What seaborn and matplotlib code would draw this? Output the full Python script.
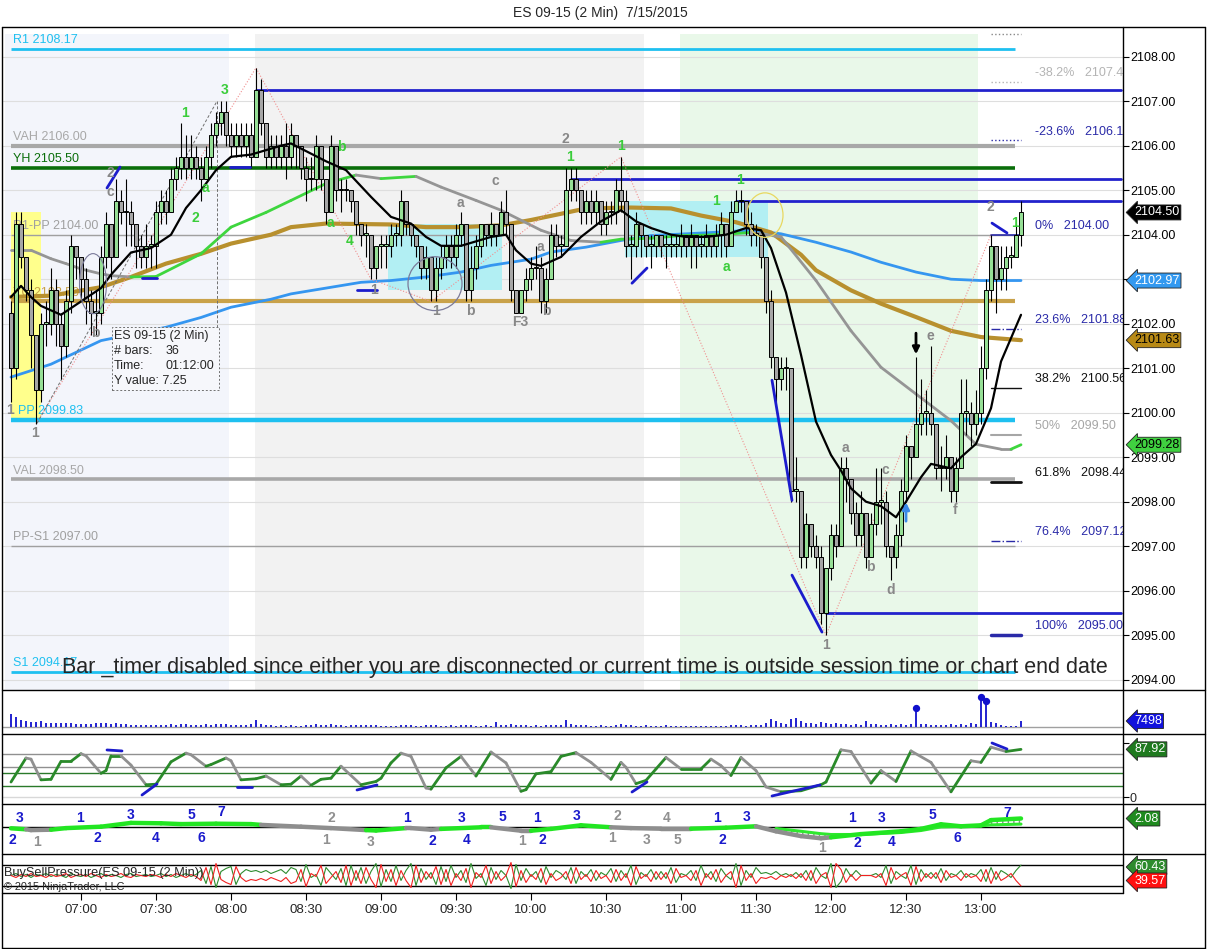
import numpy as np
import matplotlib
matplotlib.use('Agg')
import matplotlib.pyplot as plt
import seaborn as sns
from matplotlib.lines import Line2D
from matplotlib.patches import Rectangle, Ellipse

sns.set_theme(style='white')
plt.rcParams['font.family'] = ['Liberation Sans', 'DejaVu Sans']

# ---------------- data (2 minute bars from 06:32 to 13:16) ----------------
first_open = 2102.25
closes = [
    2101.0, 2104.25, 2103.5, 2102.75, 2101.75, 2100.5, 2102.0, 2102.0, 2102.75, 2102.0,
    2101.5, 2102.5, 2103.75, 2103.5, 2103.0, 2102.5, 2102.25, 2102.25, 2103.5, 2104.25,
    2103.5, 2104.75, 2104.5, 2104.5, 2104.25, 2103.75, 2103.5, 2103.75, 2103.75, 2104.5,
    2104.75, 2104.5, 2105.25, 2105.5, 2105.75, 2105.5, 2105.75, 2105.5, 2105.25, 2105.75,
    2106.25, 2106.5, 2106.75, 2106.25, 2106.0, 2106.25, 2106.0, 2106.25, 2105.75, 2107.25,
    2106.5, 2105.75, 2106.0, 2105.75, 2106.0, 2105.75, 2106.25, 2106.0, 2105.5, 2105.25,
    2105.25, 2106.0, 2105.25, 2104.5, 2106.0, 2105.0, 2105.0, 2105.0, 2104.75, 2104.25,
    2104.0, 2104.0, 2103.25, 2103.75, 2103.75, 2103.75, 2104.0, 2104.0, 2104.75, 2104.25,
    2104.0, 2103.75, 2103.25, 2103.5, 2102.75, 2103.25, 2103.5, 2103.75, 2103.5, 2104.0,
    2104.25, 2102.75, 2103.25, 2103.75, 2104.25, 2104.0, 2104.25, 2104.0, 2104.5, 2104.25,
    2102.75, 2102.25, 2102.75, 2103.0, 2103.25, 2103.25, 2102.5, 2103.0, 2104.0, 2103.75,
    2103.75, 2105.0, 2105.25, 2105.0, 2104.5, 2104.75, 2104.5, 2104.75, 2104.25, 2104.5,
    2104.5, 2105.0, 2104.75, 2103.75, 2103.75, 2104.25, 2104.0, 2103.75, 2103.75, 2104.0,
    2103.75, 2103.75, 2103.75, 2103.75, 2104.0, 2103.75, 2104.0, 2103.75, 2103.75, 2104.0,
    2103.75, 2104.0, 2104.25, 2103.75, 2104.5, 2104.75, 2104.75, 2104.25, 2104.0, 2104.0,
    2103.5, 2102.5, 2101.25, 2100.75, 2101.0, 2101.0, 2098.25, 2098.25, 2096.75, 2097.5,
    2097.0, 2096.75, 2095.5, 2096.5, 2097.25, 2097.0, 2098.75, 2098.5, 2097.75, 2097.25,
    2097.75, 2096.75, 2097.5, 2098.0, 2098.0, 2097.0, 2096.75, 2097.25, 2098.25, 2099.25,
    2099.0, 2099.75, 2100.0, 2100.0, 2099.75, 2098.75, 2098.75, 2099.0, 2098.25, 2098.75,
    2100.0, 2100.0, 2099.75, 2100.0, 2101.0, 2102.75, 2103.75, 2103.0, 2103.25, 2103.5,
    2103.5, 2104.0, 2104.5]
highs = [
    2102.5, 2104.5, 2104.5, 2103.5, 2103.0, 2101.75, 2102.25, 2102.5, 2103.25, 2103.0,
    2102.25, 2102.75, 2104.0, 2103.75, 2103.5, 2103.25, 2102.75, 2102.75, 2103.75, 2104.5,
    2104.25, 2105.25, 2105.0, 2105.25, 2104.75, 2104.25, 2104.0, 2104.25, 2104.0, 2104.75,
    2105.0, 2105.0, 2105.5, 2105.75, 2106.5, 2106.25, 2106.25, 2106.0, 2105.75, 2106.0,
    2106.5, 2106.75, 2107.0, 2107.0, 2106.5, 2106.5, 2106.5, 2106.5, 2106.5, 2107.75,
    2107.5, 2106.5, 2106.25, 2106.25, 2106.25, 2106.5, 2106.5, 2106.25, 2106.0, 2105.75,
    2105.75, 2106.25, 2106.0, 2105.25, 2106.25, 2106.0, 2105.25, 2105.25, 2105.0, 2104.75,
    2104.25, 2104.25, 2104.0, 2103.75, 2104.0, 2104.0, 2104.25, 2104.25, 2105.0, 2104.75,
    2104.25, 2104.0, 2103.75, 2103.75, 2103.5, 2103.5, 2103.75, 2104.0, 2104.0, 2104.25,
    2104.5, 2104.25, 2103.75, 2104.0, 2104.25, 2104.25, 2104.5, 2104.25, 2104.75, 2105.0,
    2104.25, 2102.75, 2102.75, 2103.25, 2103.5, 2103.75, 2103.5, 2103.25, 2104.25, 2104.25,
    2104.0, 2105.5, 2105.5, 2105.5, 2105.0, 2105.0, 2105.0, 2105.0, 2104.75, 2104.75,
    2104.75, 2105.25, 2105.75, 2105.0, 2104.0, 2104.5, 2104.25, 2104.0, 2104.0, 2104.0,
    2104.0, 2104.0, 2104.0, 2104.0, 2104.25, 2104.0, 2104.25, 2104.0, 2104.0, 2104.25,
    2104.0, 2104.25, 2104.5, 2104.25, 2104.75, 2105.0, 2105.0, 2104.75, 2104.5, 2104.25,
    2104.0, 2103.5, 2102.75, 2101.25, 2101.25, 2101.25, 2101.0, 2099.0, 2098.0, 2097.75,
    2097.5, 2097.25, 2097.0, 2096.5, 2097.5, 2097.5, 2099.0, 2099.0, 2098.5, 2098.0,
    2098.25, 2097.75, 2097.75, 2098.75, 2098.75, 2098.25, 2097.0, 2097.5, 2098.5, 2099.5,
    2099.25, 2101.25, 2100.75, 2100.5, 2101.5, 2099.75, 2099.25, 2099.5, 2099.0, 2099.0,
    2100.75, 2100.75, 2100.25, 2100.5, 2101.5, 2103.0, 2104.0, 2103.75, 2103.75, 2103.75,
    2103.75, 2104.25, 2104.75]
lows = [
    2100.25, 2100.75, 2103.25, 2102.5, 2101.0, 2099.75, 2100.25, 2101.5, 2101.75, 2101.5,
    2100.75, 2101.25, 2102.25, 2103.0, 2102.5, 2102.0, 2101.75, 2101.75, 2102.0, 2103.25,
    2103.0, 2103.5, 2104.25, 2103.75, 2103.75, 2103.25, 2103.25, 2103.25, 2103.25, 2103.25,
    2104.25, 2104.25, 2104.5, 2105.0, 2105.25, 2105.25, 2105.25, 2105.25, 2104.75, 2105.25,
    2105.5, 2106.0, 2106.25, 2106.0, 2105.75, 2105.75, 2105.75, 2105.75, 2105.5, 2105.75,
    2106.25, 2105.5, 2105.5, 2105.5, 2105.5, 2105.25, 2105.5, 2105.5, 2105.25, 2104.75,
    2105.0, 2105.0, 2105.0, 2104.25, 2104.5, 2104.75, 2104.5, 2104.75, 2104.5, 2104.0,
    2103.75, 2103.5, 2103.0, 2103.0, 2103.25, 2103.25, 2103.5, 2103.75, 2103.75, 2104.0,
    2103.75, 2103.5, 2103.0, 2103.0, 2102.5, 2102.5, 2103.0, 2103.25, 2103.25, 2103.25,
    2103.75, 2102.5, 2102.5, 2103.0, 2103.5, 2103.75, 2103.75, 2103.75, 2104.0, 2104.0,
    2102.5, 2102.25, 2102.25, 2102.5, 2102.75, 2103.0, 2102.25, 2102.25, 2103.0, 2103.5,
    2103.5, 2103.75, 2104.75, 2104.75, 2104.25, 2104.25, 2104.25, 2104.25, 2104.0, 2104.0,
    2104.25, 2104.25, 2104.5, 2103.5, 2103.0, 2103.5, 2103.5, 2103.5, 2103.25, 2103.5,
    2103.5, 2103.25, 2103.5, 2103.5, 2103.5, 2103.5, 2103.25, 2103.25, 2103.5, 2103.5,
    2103.5, 2103.5, 2103.5, 2103.5, 2103.75, 2104.5, 2104.5, 2104.0, 2103.75, 2103.75,
    2103.25, 2102.25, 2101.0, 2100.25, 2100.5, 2100.5, 2098.0, 2098.0, 2096.5, 2096.5,
    2096.75, 2096.5, 2095.25, 2095.0, 2096.25, 2096.75, 2097.0, 2098.0, 2097.5, 2097.0,
    2097.0, 2096.5, 2096.75, 2097.25, 2097.5, 2096.75, 2096.25, 2096.5, 2097.0, 2098.0,
    2098.5, 2099.0, 2099.5, 2099.5, 2099.5, 2098.5, 2098.25, 2098.5, 2098.0, 2098.0,
    2098.75, 2099.5, 2099.25, 2099.5, 2099.75, 2100.75, 2102.5, 2102.25, 2102.75, 2102.75,
    2103.25, 2103.5, 2103.75]
volumes = [
    16000, 12500, 9000, 7500, 6500, 6000, 7000, 5500, 5000, 4500,
    4500, 5000, 5500, 4000, 4000, 3500, 3500, 4500, 5000, 4500,
    4000, 5000, 3500, 3500, 3000, 3000, 2500, 3000, 2500, 2500,
    3000, 2500, 3500, 3000, 4000, 3500, 3000, 2500, 3000, 3500,
    3000, 3500, 4000, 3500, 3000, 2500, 3000, 3000, 3500, 8500,
    3500, 3000, 2000, 1500, 2000, 1500, 2500, 1500, 1500, 2000,
    2000, 3500, 2500, 3000, 4000, 3000, 2000, 1500, 2000, 2500,
    2000, 2500, 3000, 2000, 1500, 1500, 1500, 1500, 2500, 2000,
    2000, 1500, 1500, 2500, 2000, 2000, 1500, 1500, 2000, 1500,
    2000, 2500, 2000, 1500, 1500, 2000, 1500, 6000, 2000, 3000,
    3500, 2500, 2000, 2000, 1500, 2000, 1500, 2000, 2000, 2500,
    3000, 8500, 3500, 2500, 2000, 2000, 1500, 1500, 2000, 1000,
    1500, 2000, 3500, 2500, 2000, 1500, 1500, 2000, 1500, 1500,
    1500, 2000, 1500, 1500, 1500, 1000, 1500, 1500, 1000, 1500,
    1000, 1500, 1500, 1000, 2000, 2500, 2000, 1500, 2000, 2500,
    3000, 5500, 9500, 7500, 4500, 3500, 10500, 11000, 8000, 5000,
    5500, 4000, 6000, 5500, 3500, 4500, 4000, 3500, 3000, 3500,
    3000, 8000, 3500, 4000, 2500, 3000, 3500, 3000, 3500, 3000,
    3500, 22500, 4000, 3500, 3000, 3000, 2500, 3000, 3500, 3000,
    3500, 3000, 4500, 4000, 36000, 31000, 6000, 4500, 2000, 1500,
    1500, 1500, 7498]
vol_spikes = [181, 194, 195]
buy_pressure = [
    50, 52, 49, 51, 48, 51, 50, 52, 49, 51,
    50, 48, 52, 50, 49, 51, 48, 50, 52, 49,
    51, 50, 48, 51, 52, 49, 50, 51, 49, 50,
    52, 49, 51, 48, 50, 52, 49, 51, 55, 42,
    59, 38, 54, 57, 59, 41, 52, 56, 54, 55,
    53, 55, 52, 54, 56, 52, 58, 56, 44, 61,
    48, 51, 40, 58, 52, 46, 57, 40, 60, 45,
    58, 42, 54, 62, 39, 56, 44, 60, 45, 55,
    62, 40, 57, 46, 53, 41, 59, 44, 60, 48,
    55, 43, 62, 47, 52, 40, 58, 46, 55, 50,
    37, 61, 45, 57, 49, 54, 43, 59, 48, 55,
    52, 46, 58, 42, 54, 49, 56, 45, 53, 50,
    57, 44, 55, 48, 60, 41, 53, 49, 56, 46,
    54, 47, 58, 43, 52, 50, 55, 45, 60, 48,
    54, 44, 57, 50, 46, 62, 40, 55, 48, 58,
    52, 53, 51, 54, 50, 52, 49, 53, 48, 55,
    45, 58, 50, 47, 62, 38, 44, 57, 49, 55,
    50, 50, 50, 52, 48, 60, 42, 54, 50, 47,
    60, 41, 56, 48, 53, 47, 57, 45, 52, 50,
    55, 48, 52, 50, 56, 44, 58, 46, 55, 52,
    48, 55, 60.43]

# moving averages (bar index, value)
ema_x = [0, 2, 4, 6, 10, 12, 14, 18, 20, 24, 28, 32, 35, 38, 41, 44, 48, 54, 56, 63, 67, 72,
         76, 80, 83, 86, 90, 93, 96, 99, 101, 104, 106, 110, 114, 118, 122, 125, 128, 132,
         135, 139, 143, 147, 150, 152, 155, 158, 161, 164, 166, 168, 171, 174, 177, 179,
         182, 184, 188, 190, 193, 196, 198, 202]
ema_v = [2102.6, 2102.85, 2102.6, 2102.4, 2102.2, 2102.35, 2102.5, 2102.8, 2103.1, 2103.6,
         2103.7, 2104.0, 2104.6, 2105.0, 2105.45, 2105.75, 2105.8, 2106.0, 2106.05, 2105.65,
         2105.45, 2104.85, 2104.4, 2104.25, 2103.95, 2103.75, 2103.75, 2103.85, 2103.95,
         2104.0, 2103.65, 2103.35, 2103.3, 2103.5, 2103.95, 2104.3, 2104.55, 2104.3, 2104.15,
         2104.0, 2103.95, 2103.95, 2104.0, 2104.15, 2104.1, 2103.7, 2102.7, 2101.3, 2099.8,
         2099.05, 2098.7, 2098.3, 2098.0, 2097.9, 2097.65, 2098.0, 2098.55, 2098.85, 2098.75,
         2099.0, 2099.3, 2100.1, 2101.15, 2102.2]
sma_x = [0, 4, 8, 11, 14, 18, 20, 24, 29, 38, 44, 51, 56, 63, 69, 74, 81, 86, 93, 98, 106,
         112, 118, 122, 128, 134, 139, 144, 148, 154, 161, 168, 174, 181, 188, 193, 198,
         200, 202]
sma_v = [2103.65, 2103.65, 2103.46, 2103.35, 2103.23, 2103.12, 2103.08, 2103.05, 2103.06,
         2103.57, 2104.17, 2104.5, 2104.77, 2105.15, 2105.34, 2105.26, 2105.31, 2105.07,
         2104.77, 2104.55, 2104.1, 2103.87, 2103.83, 2103.9, 2103.92, 2103.98, 2103.99,
         2104.02, 2104.05, 2103.95, 2102.97, 2101.84, 2101.02, 2100.42, 2099.82, 2099.29,
         2099.18, 2099.18, 2099.28]
gold_x = [0, 8, 18, 24, 31, 38, 44, 52, 56, 63, 76, 83, 90, 98, 104, 110, 115, 124, 132,
          138, 145, 152, 158, 161, 168, 174, 181, 188, 194, 202]
gold_v = [2102.6, 2102.63, 2102.82, 2103.05, 2103.35, 2103.57, 2103.8, 2104.0, 2104.17,
          2104.25, 2104.23, 2104.17, 2104.17, 2104.21, 2104.33, 2104.47, 2104.59, 2104.61,
          2104.59, 2104.43, 2104.28, 2104.05, 2103.55, 2103.2, 2102.75, 2102.45, 2102.15,
          2101.84, 2101.7, 2101.63]
blue_x = [0, 8, 18, 31, 38, 44, 52, 56, 70, 76, 83, 90, 96, 104, 108, 115, 122, 128, 135,
          142, 148, 154, 161, 168, 174, 181, 188, 194, 202]
blue_v = [2100.8, 2101.09, 2101.62, 2101.92, 2102.14, 2102.37, 2102.55, 2102.67, 2102.93,
          2102.97, 2103.05, 2103.16, 2103.31, 2103.45, 2103.61, 2103.72, 2103.87, 2103.98,
          2104.02, 2104.06, 2104.1, 2104.02, 2103.83, 2103.61, 2103.38, 2103.16, 2103.0,
          2102.97, 2102.97]

# stochastic
stoch_x = [0, 3, 4, 6, 8, 10, 12, 14, 15, 18, 19, 20, 22, 24, 27, 29, 32, 35, 36, 39, 40,
           43, 44, 46, 49, 51, 54, 56, 58, 60, 62, 64, 66, 70, 73, 74, 76, 78, 80, 83, 84,
           87, 90, 93, 96, 99, 102, 103, 105, 108, 110, 113, 116, 120, 122, 123, 125, 127,
           129, 131, 134, 138, 140, 142, 144, 146, 149, 151, 154, 158, 162, 163, 166, 168,
           172, 174, 177, 180, 184, 188, 192, 194, 196, 199, 202]
stoch_v = [28, 72, 70, 32, 33, 66, 66, 80, 76, 44, 49, 76, 76, 59, 23, 24, 65, 81, 78, 57,
           60, 72, 67, 32, 34, 39, 23, 24, 39, 22, 33, 35, 57, 23, 29, 35, 63, 81, 75, 17,
           15, 54, 75, 39, 83, 63, 11, 14, 43, 47, 75, 82, 64, 33, 64, 55, 25, 31, 52, 73,
           52, 52, 70, 58, 40, 73, 49, 19, 10, 12, 23, 28, 87, 84, 26, 49, 29, 85, 64, 10,
           67, 64, 92, 84, 87.92]

# wave oscillator (third panel)
macd_x = [0, 3, 4, 8, 11, 18, 24, 30, 34, 41, 48, 50, 58, 64, 71, 73, 79, 80, 84, 86, 94, 96,
          102, 104, 108, 114, 120, 124, 130, 136, 143, 149, 153, 158, 162, 164, 170, 178,
          182, 186, 190, 194, 196, 202]
macd_v = [-0.25, -0.5, -0.7, -0.6, -0.2, 0.15, 1.1, 1.0, 0.8, 0.9, 0.8, 0.6, 0.15, -0.2, -0.7,
          -0.8, -0.2, -0.2, -0.6, -0.4, 0.0, 0.0, -0.85, -0.85, -0.4, 0.5, 0.0, -0.2, -0.35,
          -0.35, -0.1, 0.25, -1.0, -2.2, -2.75, -2.5, -1.7, -1.0, -0.4, 0.75, 0.25, 0.5, 1.8,
          2.2]
signal_v = [-0.2, -0.3, -0.4, -0.5, -0.35, -0.05, 0.6, 0.85, 0.85, 0.85, 0.85, 0.8, 0.45, 0.1,
            -0.4, -0.55, -0.4, -0.35, -0.45, -0.45, -0.15, -0.1, -0.5, -0.6, -0.5, 0.1, 0.1,
            -0.05, -0.25, -0.3, -0.2, 0.05, -0.3, -1.0, -1.6, -1.8, -1.8, -1.3, -0.8, 0.1,
            0.2, 0.35, 0.6, 0.8]
macd_up = [1, 0, 0, 1, 1, 1, 1, 1, 1, 1, 1, 0, 0, 0, 1, 1, 0, 0, 0, 1, 1, 0, 0, 1, 1, 1, 0,
           0, 0, 1, 1, 0, 0, 0, 0, 1, 1, 1, 1, 1, 1, 1, 1]

# price levels
levels = [('R1 2108.17', 2108.17, '#1ec0f0', 2.0),
          ('VAH 2106.00', 2106.00, '#a8a8a8', 3.0),
          ('YH 2105.50', 2105.50, '#0a6e0a', 2.6),
          ('R1-PP 2104.00', 2104.00, '#a0a0a0', 1.0),
          ('YC 2102.50', 2102.50, '#c9a24a', 3.0),
          ('PP 2099.83', 2099.83, '#1ec0f0', 3.2),
          ('VAL 2098.50', 2098.50, '#a8a8a8', 2.6),
          ('PP-S1 2097.00', 2097.00, '#a0a0a0', 1.0),
          ('S1 2094.17', 2094.17, '#1ec0f0', 2.0)]
fib_pct = ['-38.2%', '-23.6%', '0%', '23.6%', '38.2%', '50%', '61.8%', '76.4%', '100%']
fib_val = [2107.44, 2106.12, 2104.00, 2101.88, 2100.56, 2099.50, 2098.44, 2097.12, 2095.00]
fib_col = ['#b4b4b4', '#2a2aa8', '#2a2aa8', '#2a2aa8', '#111111', '#a6a6a6', '#111111',
           '#2a2aa8', '#2a2aa8']
fib_ls = [':', ':', '-', '-.', '-', '-', '-', '-.', '-']
fib_lw = [1, 1, 1.2, 1, 1, 1.5, 2, 1, 2.5]

swing_x = [5, 49, 72, 84, 122, 163, 196]
swing_y = [2099.75, 2107.75, 2103.0, 2102.5, 2105.75, 2095.0, 2104.0]

waves = [('1', -0.2, 2100.06, 'k'), ('1', 4.8, 2099.54, 'k'), ('2', 19.8, 2105.39, 'k'),
         ('c', 19.8, 2104.96, 'k'), ('b', 16.8, 2101.79, 'k'), ('1', 34.8, 2106.73, 'g'),
         ('3', 42.8, 2107.25, 'g'), ('a', 38.8, 2105.05, 'g'), ('2', 36.8, 2104.38, 'g'),
         ('b', 66.0, 2105.97, 'g'), ('a', 63.8, 2104.26, 'g'), ('4', 67.8, 2103.86, 'g'),
         ('1', 72.6, 2102.76, 'k'), ('a', 89.8, 2104.71, 'k'), ('c', 96.8, 2105.2, 'k'),
         ('1', 85.0, 2102.28, 'k'), ('b', 91.8, 2102.28, 'k'), ('F3', 101.8, 2102.04, 'k'),
         ('b', 107.0, 2102.28, 'k'), ('a', 105.8, 2103.72, 'k'), ('2', 110.8, 2106.15, 'k'),
         ('1', 111.8, 2105.75, 'g'), ('1', 122.0, 2106.0, 'g'), ('1', 141.0, 2104.76, 'g'),
         ('1', 145.8, 2105.23, 'g'), ('a', 143.0, 2103.27, 'g'), ('a', 166.8, 2099.21, 'k'),
         ('c', 174.8, 2098.71, 'k'), ('b', 171.8, 2096.53, 'k'), ('d', 176.0, 2096.01, 'k'),
         ('e', 183.8, 2101.72, 'k'), ('f', 188.8, 2097.81, 'k'), ('1', 163.0, 2094.78, 'k'),
         ('2', 195.8, 2104.62, 'k'), ('1', 200.8, 2104.26, 'g')]
osc_labels = [('3', 1.8, 2.3, 'b'), ('2', 0.2, -3.2, 'b'), ('1', 5.2, -3.7, 'k'),
              ('1', 13.8, 2.3, 'b'), ('2', 17.2, -2.7, 'b'), ('3', 24, 3.1, 'b'),
              ('4', 29, -2.7, 'b'), ('5', 36, 3.1, 'b'), ('6', 38, -2.7, 'b'),
              ('7', 42, 3.9, 'b'), ('2', 64, 2.3, 'k'), ('1', 63, -3.2, 'k'),
              ('3', 72, -3.7, 'k'), ('1', 79.2, 2.3, 'b'), ('2', 84.2, -3.4, 'b'),
              ('3', 90.2, 2.3, 'b'), ('4', 91.2, -3.3, 'b'), ('5', 98.2, 2.6, 'b'),
              ('1', 102.2, -3.4, 'k'), ('1', 105.2, 2.3, 'b'), ('2', 106.2, -3.3, 'b'),
              ('3', 113.2, 2.8, 'b'), ('2', 121.2, 2.8, 'k'), ('1', 120.2, -2.8, 'k'),
              ('3', 127.2, -3.1, 'k'), ('4', 131.2, 2.3, 'k'), ('5', 133.2, -3.1, 'k'),
              ('1', 141.2, 2.3, 'b'), ('2', 142.2, -3.1, 'b'), ('3', 147.2, 2.6, 'b'),
              ('1', 162.2, -5.2, 'k'), ('1', 168.2, 2.3, 'b'), ('2', 169.2, -3.9, 'b'),
              ('3', 174.2, 2.3, 'b'), ('4', 176.2, -3.6, 'b'), ('5', 184.2, 3.1, 'b'),
              ('6', 189.2, -2.7, 'b'), ('7', 199.2, 3.6, 'b')]
time_labels = ['07:00', '07:30', '08:00', '08:30', '09:00', '09:30', '10:00', '10:30',
               '11:00', '11:30', '12:00', '12:30', '13:00']

# ---------------- figure ----------------
W, H = 1207, 949
fig = plt.figure(figsize=(W / 100, H / 100), dpi=100)
fig.patch.set_facecolor('white')
XL = (-1.8, 222.4)


def panel(x0, y0, x1, y1):
    a = fig.add_axes([x0 / W, 1 - y1 / H, (x1 - x0) / W, (y1 - y0) / H])
    a.set_facecolor('none')
    for s in a.spines.values():
        s.set_visible(False)
    a.set_xlim(*XL)
    a.set_xticks([])
    a.set_yticks([])
    a.grid(False)
    return a


def tag(a, y, text, fc, tc, fs=9):
    a.annotate(text, xy=(1, y), xycoords=('axes fraction', 'data'), xytext=(8, 0),
               textcoords='offset points', ha='left', va='center', fontsize=fs, color=tc,
               bbox=dict(boxstyle='larrow,pad=0.12', fc=fc, ec='#222222', lw=0.6),
               annotation_clip=False, zorder=20)


n = len(closes)
idx = np.arange(n)
c = np.array(closes)
o = np.array([first_open] + closes[:-1])
hi = np.maximum(np.array(highs), np.maximum(o, c))
lo = np.minimum(np.array(lows), np.minimum(o, c))

# ---- main price panel ----
ax = panel(2, 27, 1123, 690)
ax.set_ylim(2093.769, 2108.667)
ax.axvspan(-1.2, 43.5, ymax=0.99, color='#f3f5fb', zorder=0, lw=0)
ax.axvspan(48.7, 126.5, ymax=0.99, color='#f2f2f2', zorder=0, lw=0)
ax.axvspan(133.7, 193.4, ymax=0.99, color='#e9f8e9', zorder=0, lw=0)
for p in range(2094, 2109):
    ax.axhline(p, color='#dedede', lw=0.8, zorder=0.5)

ax.add_patch(Rectangle((0, 2099.83), 6, 4.67, fc='#ffff8c', ec='none', zorder=1))
ax.add_patch(Rectangle((75.4, 2102.75), 22.8, 1.5, fc='#b2eff3', ec='none', zorder=1))
ax.add_patch(Rectangle((122.8, 2103.5), 28.6, 1.25, fc='#b2eff3', ec='none', zorder=1))

for txt, val, col, lw in levels:
    ax.plot([0, 200.8], [val, val], color=col, lw=lw, zorder=2, solid_capstyle='butt')
    xoff = 1.4 if txt.startswith('PP ') else 0.4
    ax.annotate(txt, xy=(xoff, val), xytext=(0, 2), textcoords='offset points',
                ha='left', va='bottom', fontsize=9, color=col, zorder=2.5)

ax.plot([49, 222], [2107.25, 2107.25], color='#2222cc', lw=2, zorder=2)
ax.plot([112, 222], [2105.25, 2105.25], color='#2222cc', lw=2, zorder=2)
ax.plot([145, 222], [2104.75, 2104.75], color='#2222cc', lw=2, zorder=2)
ax.plot([163, 222], [2095.5, 2095.5], color='#2222cc', lw=2, zorder=2)

for pct, val, col, ls, lw in zip(fib_pct, fib_val, fib_col, fib_ls, fib_lw):
    ax.plot([196, 202], [val, val], color=col, ls=ls, lw=lw, zorder=2)
    ax.annotate(f'{pct}   {val:.2f}', xy=(204.8, val), xytext=(0, 2),
                textcoords='offset points', ha='left', va='bottom', fontsize=9,
                color=col, clip_on=True, zorder=2.5)
ax.plot([196, 202], [2108.5, 2108.5], color='#888888', ls=':', lw=1, zorder=2)

# moving averages
sns.lineplot(x=blue_x, y=blue_v, ax=ax, color='#3596f0', lw=2, zorder=3, legend=False)
sns.lineplot(x=gold_x, y=gold_v, ax=ax, color='#b8902e', lw=3, zorder=3, legend=False)
for i in range(len(sma_x) - 1):
    col = '#3ed63e' if sma_v[i + 1] > sma_v[i] else '#959595'
    ax.plot(sma_x[i:i + 2], sma_v[i:i + 2], color=col, lw=2, zorder=3,
            solid_capstyle='round')

# zigzag and measuring tool
ax.plot(swing_x, swing_y, color='#f09090', lw=0.8, ls=(0, (1, 1.6)), zorder=3)
ax.plot([5.2, 41.2], [2099.76, 2107.0], color='#707070', lw=0.7, ls=(0, (3, 2)), zorder=3)
ax.plot([41.2, 41.2], [2107.0, 2101.92], color='#707070', lw=0.7, ls=(0, (3, 2)), zorder=3)
ax.add_patch(Rectangle((20.2, 2100.5), 21.4, 1.42, fc='#f6f7fb', ec='#707070', lw=0.7,
                       ls=(0, (2, 2)), zorder=3.5))
for k, (a_txt, b_txt) in enumerate([('ES 09-15 (2 Min)', ''), ('# bars:', '36'),
                                    ('Time:', '01:12:00'), ('Y value: 7.25', '')]):
    yy = 2101.72 - k * 0.335
    ax.text(20.6, yy, a_txt, fontsize=9, va='center', ha='left', zorder=3.6)
    if b_txt:
        ax.text(31, yy, b_txt, fontsize=9, va='center', ha='left', zorder=3.6)

# candles
up = c >= o
ax.vlines(idx, lo, hi, color='black', lw=0.8, zorder=4)
ax.bar(idx, np.maximum(np.abs(c - o), 0.035), bottom=np.minimum(o, c), width=0.72,
       color=np.where(up, '#96df96', '#a6a6a6'), edgecolor='black', lw=0.7, zorder=4.2)

sns.lineplot(x=ema_x, y=ema_v, ax=ax, color='black', lw=1.6, zorder=4.5, legend=False)

# circles
ax.add_patch(Ellipse((84.8, 2102.9), 10.8, 1.21, fc='none', ec='#7a7a9a', lw=0.9, zorder=5))
ax.add_patch(Ellipse((16.4, 2102.9), 5.4, 1.35, fc='none', ec='#7a7a9a', lw=0.8, zorder=5))
ax.add_patch(Ellipse((150.8, 2104.44), 7.2, 1.0, fc='none', ec='#e8d860', lw=0.9, zorder=5))

# blue trend marks
for (x0, x1), (y0, y1) in [((19.2, 21.8), (2105.05, 2105.52)), ((26.2, 29.2), (2103.02, 2103.02)),
                           ((43.8, 47.8), (2105.52, 2105.52)), ((69.2, 73.2), (2102.76, 2102.76)),
                           ((124.2, 127.2), (2102.91, 2103.25)), ((152.2, 156.2), (2100.73, 2098.03)),
                           ((156.2, 162.2), (2096.35, 2095.07)), ((196.2, 199.2), (2104.26, 2104.04))]:
    ax.plot([x0, x1], [y0, y1], color='#1c1ccc', lw=2, zorder=5)

for txt, x, y, col in waves:
    ax.text(x, y, txt, fontsize=10, fontweight='bold', ha='center', va='center',
            color='#3acd3a' if col == 'g' else '#888888', zorder=6)
ax.annotate('', xy=(181, 2101.25), xytext=(181, 2101.85),
            arrowprops=dict(arrowstyle='-|>', color='black', lw=2, mutation_scale=10), zorder=6)
ax.annotate('', xy=(179, 2098.05), xytext=(179, 2097.5),
            arrowprops=dict(arrowstyle='-|>', color='#3a8ae8', lw=2, mutation_scale=10), zorder=6)

# right price scale (the 2103 label sits under the blue price tag)
ax.yaxis.tick_right()
ax.set_yticks(range(2094, 2109))
ax.set_yticklabels(['' if v == 2103 else f'{v:.2f}' for v in range(2094, 2109)])
ax.tick_params(axis='y', right=True, length=4, width=0.8, color='black', labelsize=9,
               pad=1, labelcolor='black')
tag(ax, 2104.50, '2104.50', 'black', 'white')
tag(ax, 2102.97, '2102.97', '#3399f0', 'white')
tag(ax, 2101.63, '2101.63', '#b88a16', 'black')
tag(ax, 2099.28, '2099.28', '#40d040', 'black')

# ---- volume panel ----
av = panel(2, 690, 1123, 734)
av.set_ylim(-8750, 46250)
av.axhline(0, color='#a0a0a0', lw=1, zorder=1)
av.vlines(idx, 0, volumes, color='#1010cc', lw=1.3, zorder=2)
av.scatter(vol_spikes, [volumes[i] + 1500 for i in vol_spikes], s=18, color='#1010cc', zorder=3)
tag(av, 7498, '7498', '#1212dd', 'white')

# ---- stochastic panel ----
ast = panel(2, 734, 1123, 804)
ast.set_ylim(-12.3, 116.1)
for lvl, col in [(80, '#909090'), (55, '#909090'), (45, '#2a7a2a'), (20, '#2a7a2a'), (0, '#d8d8d8')]:
    ast.axhline(lvl, color=col, lw=1, zorder=1)
for i in range(len(stoch_x) - 1):
    col = '#2a8a2a' if stoch_v[i + 1] >= stoch_v[i] else '#909090'
    ast.plot(stoch_x[i:i + 2], stoch_v[i:i + 2], color=col, lw=2, zorder=3,
             solid_capstyle='round')
for (x0, x1), (y0, y1) in [((19.2, 22.2), (86.8, 85)), ((26.2, 29.2), (4.2, 24.4)),
                           ((45.2, 48.2), (18.9, 18.9)), ((69.2, 73.2), (13.4, 22.6)),
                           ((124.2, 127.2), (9.7, 28)), ((152.2, 161.8), (2.4, 22.6)),
                           ((196.2, 199.2), (99.6, 88.6))]:
    ast.plot([x0, x1], [y0, y1], color='#1c1ccc', lw=2, zorder=4)
ast.yaxis.tick_right()
ast.set_yticks([0, 100])
ast.set_yticklabels(['0', ''])
ast.tick_params(axis='y', right=True, length=4, width=0.8, color='black', labelsize=9, pad=1)
tag(ast, 87.92, '87.92', '#1f7a1f', 'white')

# ---- wave oscillator panel ----
aw = panel(2, 804, 1123, 854)
aw.set_ylim(-6.675, 5.825)
aw.axhline(0, color='black', lw=1, zorder=1)
mx = np.array(macd_x)
late = mx >= 150
aw.fill_between(mx, macd_v, signal_v, where=late, interpolate=True, facecolor='none',
                edgecolor='#8a8a8a', hatch='|||', lw=0, zorder=2)
aw.plot(mx[late], np.array(signal_v)[late], color='#2ee82e', lw=2.2, zorder=3)
for i in range(len(macd_x) - 1):
    col = '#22e622' if macd_up[i] else '#8e8e8e'
    aw.plot(macd_x[i:i + 2], macd_v[i:i + 2], color=col, lw=3.2, zorder=4,
            solid_capstyle='round')
for txt, x, y, col in osc_labels:
    aw.text(x, y, txt, fontsize=10, fontweight='bold', ha='center', va='center',
            color='#1a1acc' if col == 'b' else '#909090', zorder=6)
tag(aw, 2.2, '2.08', '#1f8a1f', 'white')

# ---- buy / sell pressure ----
ab = panel(2, 854, 1123, 893)
ab.set_ylim(32.5, 71.5)
ab.axhline(60.5, color='black', lw=1, zorder=1)
ab.axhline(39.5, color='black', lw=1, zorder=1)
bp = np.array(buy_pressure)
ab.plot(idx, bp, color='#2e8b2e', lw=0.8, zorder=3)
ab.plot(idx, 100 - bp, color='#f02020', lw=0.8, zorder=3)
ab.text(-1.4, 52.5, 'BuySellPressure(ES 09-15 (2 Min))', fontsize=9.2, ha='left',
        va='center', zorder=5)
ab.text(-1.4, 39.0, '\u00a9 2015 NinjaTrader, LLC', fontsize=7.8, ha='left', va='center',
        zorder=5)
tag(ab, 58.5, '60.43', '#2e8b2e', 'white')
tag(ab, 45.0, '39.57', '#ff1010', 'white')
ab.set_xticks([14 + 15 * k for k in range(len(time_labels))])
ab.set_xticklabels(time_labels)
ab.tick_params(axis='x', bottom=True, length=5, width=0.8, color='black', labelsize=9.5,
               pad=3, direction='out')


# frame and panel separators
def hline(y, x0=2, x1=1205, lw=1.0):
    fig.add_artist(Line2D([x0 / W, x1 / W], [1 - y / H, 1 - y / H], color='black', lw=lw,
                          transform=fig.transFigure))


def vline(x, y0, y1, lw=1.0):
    fig.add_artist(Line2D([x / W, x / W], [1 - y0 / H, 1 - y1 / H], color='black', lw=lw,
                          transform=fig.transFigure))


for yy in [27, 690, 734, 804, 854, 948]:
    hline(yy)
hline(893, 2, 1123)
vline(2, 27, 948)
vline(1205, 27, 948)
vline(1123, 27, 893)

fig.text(600 / W, 1 - 13 / H, 'ES 09-15 (2 Min)  7/15/2015', ha='center', va='center',
         fontsize=10)
fig.text(62 / W, 1 - 667 / H, 'Bar _timer disabled since either you are disconnected or '
         'current time is outside session time or chart end date', ha='left', va='center',
         fontsize=15.5, zorder=30)

fig.savefig('out.png', dpi=100)
